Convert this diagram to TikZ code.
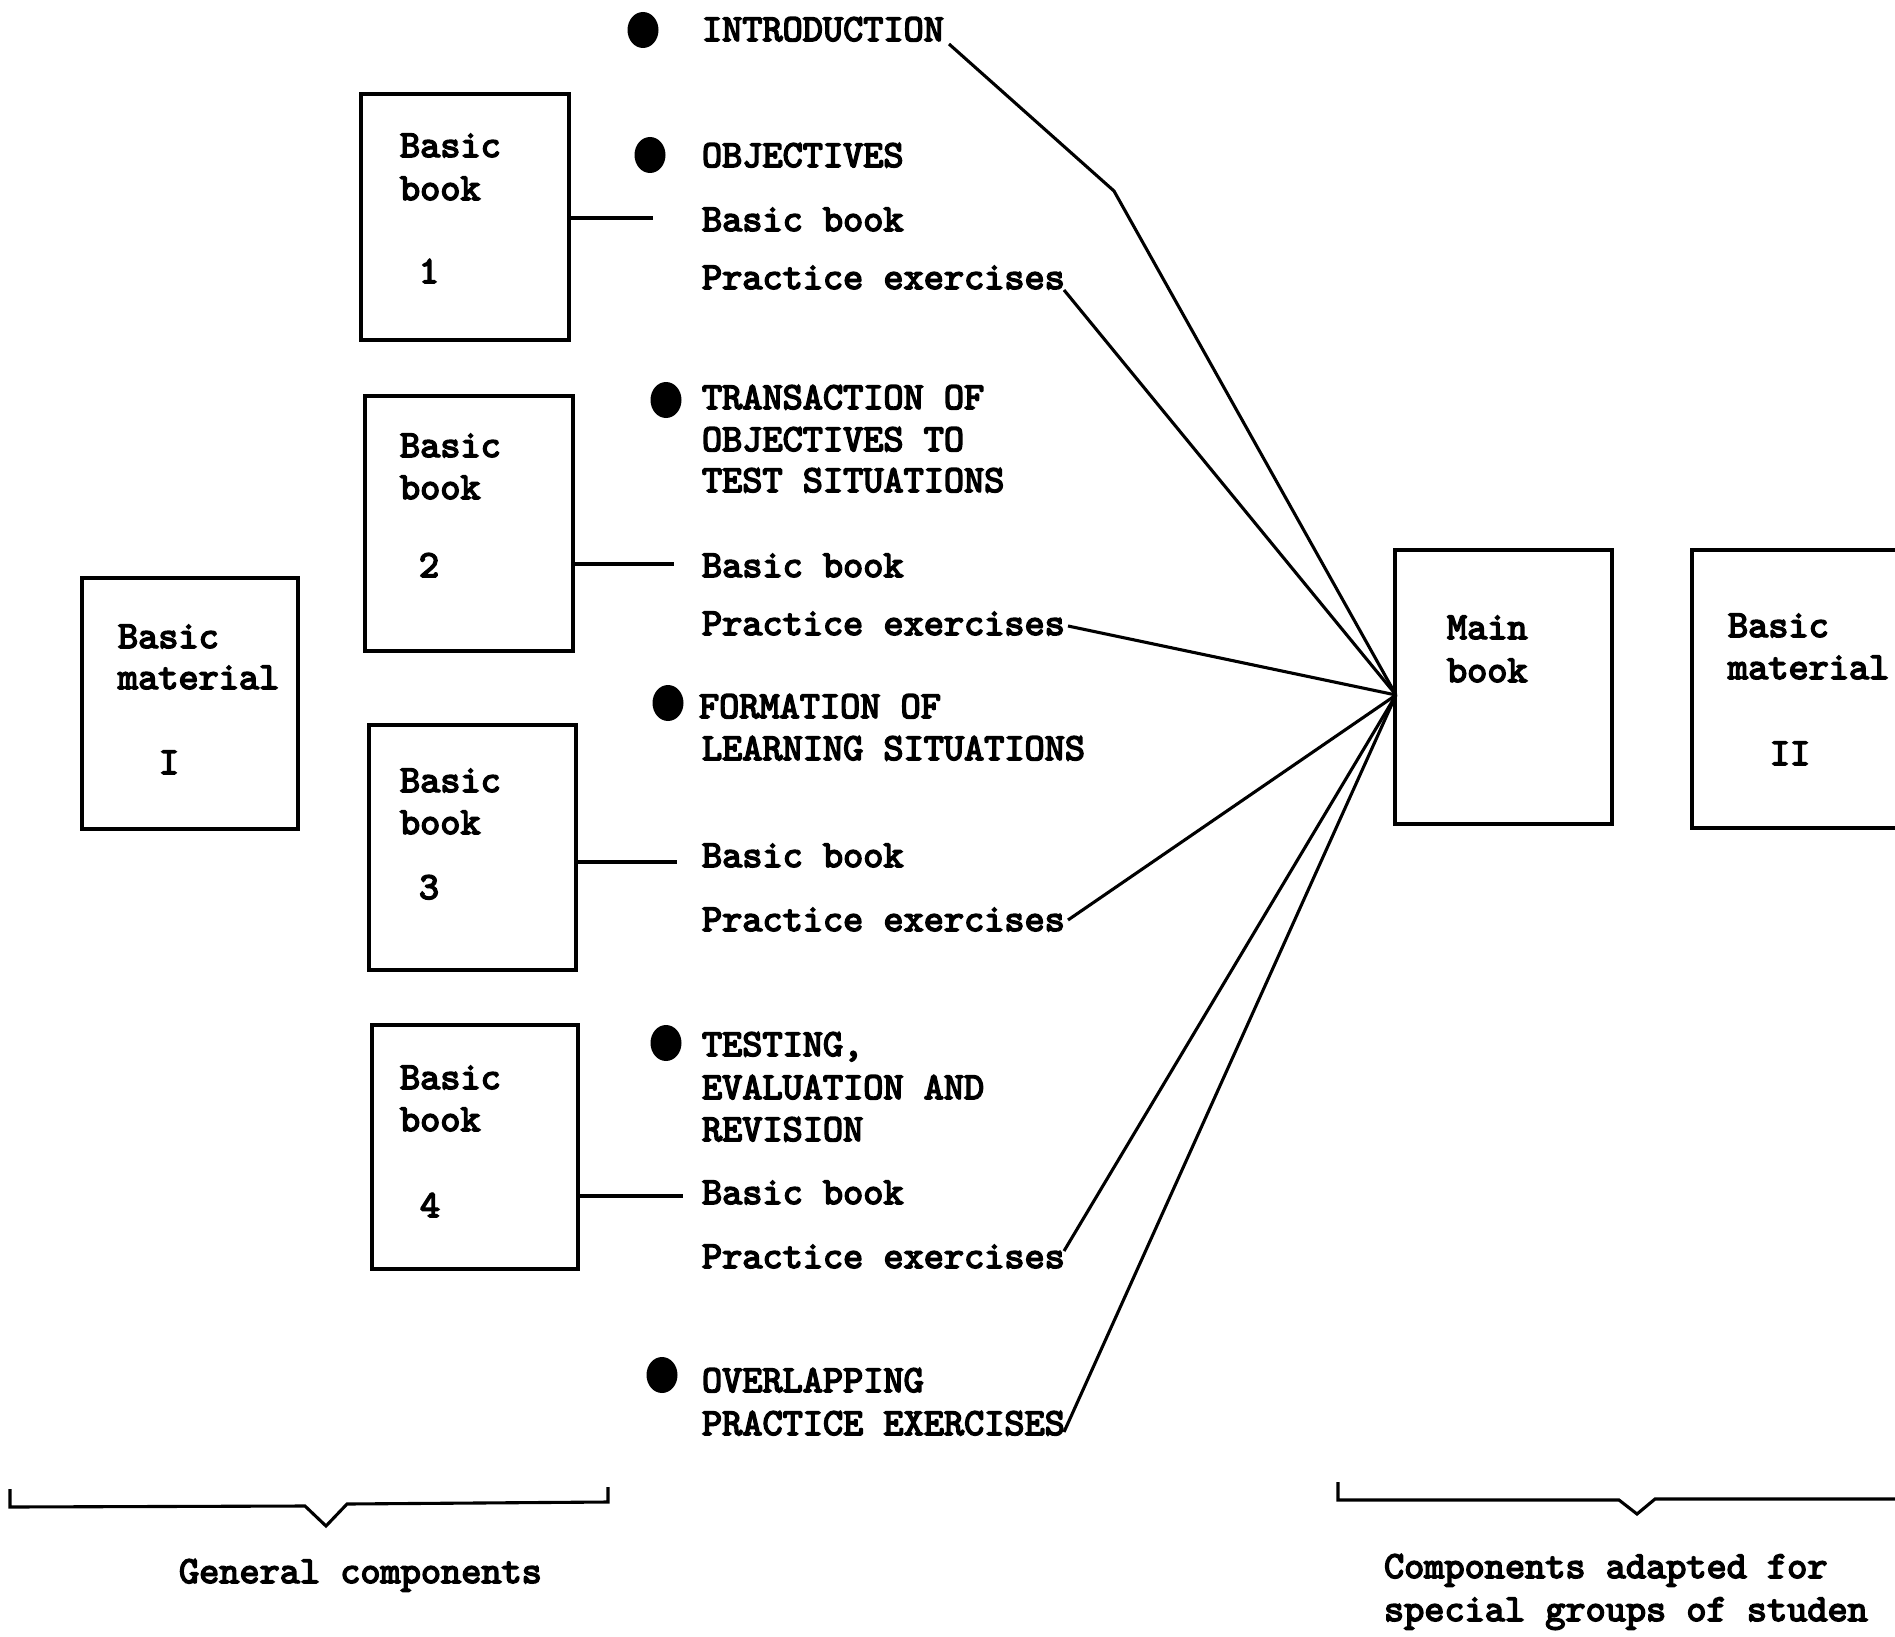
\documentclass[tikz,border=0pt]{standalone}
\usepackage{fontspec}
\newfontfamily\twfont{lmmono10-regular.otf}[FakeBold=4]
\usetikzlibrary{shapes.geometric,calc}
\begin{document}
\begin{tikzpicture}[x=1pt,y=-1pt,
  every node/.style={inner sep=0pt,outer sep=0pt},
  txt/.style={anchor=base west,font=\fontsize{38.4}{44}\selectfont\twfont},
  ctxt/.style={anchor=base,font=\fontsize{38.4}{44}\selectfont\twfont},
  bookbox/.style={draw,line width=3.4pt,anchor=north west},
  conn/.style={line width=3.1pt},
  dotmark/.style={ellipse,fill,minimum width=31,minimum height=36}]
\useasboundingbox (0,0) rectangle (1895,1637);
\clip (0,0) rectangle (1895,1637);
% boxes
\node[bookbox,minimum width=216,minimum height=251] (bm1) at (82,578) {};
\node[bookbox,minimum width=208,minimum height=246] (book1) at (361,94) {};
\node[bookbox,minimum width=208,minimum height=255] (book2) at (365,396) {};
\node[bookbox,minimum width=207,minimum height=245] (book3) at (369,725) {};
\node[bookbox,minimum width=206,minimum height=244] (book4) at (372,1025) {};
\node[bookbox,minimum width=217,minimum height=274] (main) at (1395,550) {};
\node[bookbox,minimum width=240,minimum height=278] (bm2) at (1692,550) {};
% box texts
\node[txt] (bm1a) at (118,648) {Basic};
\node[txt] (bm1b) at (118,689) {material};
\node[ctxt] (bm1c) at (169,774) {I};
\node[txt] (b1a) at (400,157) {Basic};
\node[txt] (b1b) at (400,200) {book};
\node[ctxt] (b1c) at (429,283) {1};
\node[txt] (b2a) at (400,457) {Basic};
\node[txt] (b2b) at (400,499) {book};
\node[ctxt] (b2c) at (429,577) {2};
\node[txt] (b3a) at (400,792) {Basic};
\node[txt] (b3b) at (400,834) {book};
\node[ctxt] (b3c) at (429,899) {3};
\node[txt] (b4a) at (400,1089) {Basic};
\node[txt] (b4b) at (400,1131) {book};
\node[ctxt] (b4c) at (430,1217) {4};
\node[txt] (mba) at (1447,639) {Main};
\node[txt] (mbb) at (1447,682) {book};
\node[txt] (bm2a) at (1728,637) {Basic};
\node[txt] (bm2b) at (1728,679) {material};
\node[ctxt] (bm2c) at (1790,765) {II};
% bullets
\node[dotmark] (d1) at (643,30) {};
\node[dotmark] (d2) at (650,155) {};
\node[dotmark] (d3) at (666,400) {};
\node[dotmark] (d4) at (668,703) {};
\node[dotmark] (d5) at (666,1043) {};
\node[dotmark] (d6) at (662,1375) {};
% column texts
\node[txt] (intro) at (702,41) {INTRODUCTION};
\node[txt] (obj) at (702,167) {OBJECTIVES};
\node[txt] (bb1) at (702,231) {Basic book};
\node[txt] (pe1) at (702,289) {Practice exercises};
\node[txt] (tr1) at (702,409) {TRANSACTION OF};
\node[txt] (tr2) at (702,451) {OBJECTIVES TO};
\node[txt] (tr3) at (702,492) {TEST SITUATIONS};
\node[txt] (bb2) at (702,577) {Basic book};
\node[txt] (pe2) at (702,635) {Practice exercises};
\node[txt] (fo1) at (699,718) {FORMATION OF};
\node[txt] (fo2) at (702,760) {LEARNING SITUATIONS};
\node[txt] (bb3) at (702,867) {Basic book};
\node[txt] (pe3) at (702,931) {Practice exercises};
\node[txt] (te1) at (702,1056) {TESTING,};
\node[txt] (te2) at (702,1099) {EVALUATION AND};
\node[txt] (te3) at (702,1141) {REVISION};
\node[txt] (bb4) at (702,1204) {Basic book};
\node[txt] (pe4) at (702,1268) {Practice exercises};
\node[txt] (ov1) at (702,1392) {OVERLAPPING};
\node[txt] (ov2) at (702,1435) {PRACTICE EXERCISES};
% book to text connectors
\coordinate (e1) at (653,218);
\coordinate (e2) at (674,564);
\coordinate (e3) at (677,862);
\coordinate (e4) at (683,1196);
\draw[conn] (book1.east |- e1) -- (e1);
\draw[conn] (book2.east |- e2) -- (e2);
\draw[conn] (book3.east |- e3) -- (e3);
\draw[conn] (book4.east |- e4) -- (e4);
% fan into main book
\coordinate (hub) at (1396,695);
\coordinate (kink) at (1114,191);
\coordinate (s0) at (949,44);
\coordinate (s1) at (1064,290);
\coordinate (s2) at (1068,626);
\coordinate (s3) at (1068,920);
\coordinate (s4) at (1064,1251);
\coordinate (s5) at (1064,1432);
\draw[conn] (s0) -- (kink) -- (hub);
\draw[conn] (s1) -- (hub);
\draw[conn] (s2) -- (hub);
\draw[conn] (s3) -- (hub);
\draw[conn] (s4) -- (hub);
\draw[conn] (s5) -- (hub);
% braces
\coordinate (l1) at (10,1489);
\coordinate (l2) at (10,1507);
\coordinate (l3) at (305,1506);
\coordinate (l4) at (326,1526);
\coordinate (l5) at (347,1504);
\coordinate (l6) at (608,1502);
\coordinate (l7) at (608,1487);
\draw[conn] (l1) -- (l2) -- (l3) -- (l4) -- (l5) -- (l6) -- (l7);
\coordinate (r1) at (1338,1482);
\coordinate (r2) at (1338,1500);
\coordinate (r3) at (1619,1500);
\coordinate (r4) at (1637,1514);
\coordinate (r5) at (1655,1499);
\coordinate (r6) at (1900,1499);
\draw[conn] (r1) -- (r2) -- (r3) -- (r4) -- (r5) -- (r6);
% bottom labels
\node[txt] (gen) at (179,1583) {General components};
\node[txt] (adp1) at (1384,1578) {Components adapted for};
\node[txt] (adp2) at (1384,1621) {special groups of studen};
\end{tikzpicture}
\end{document}
